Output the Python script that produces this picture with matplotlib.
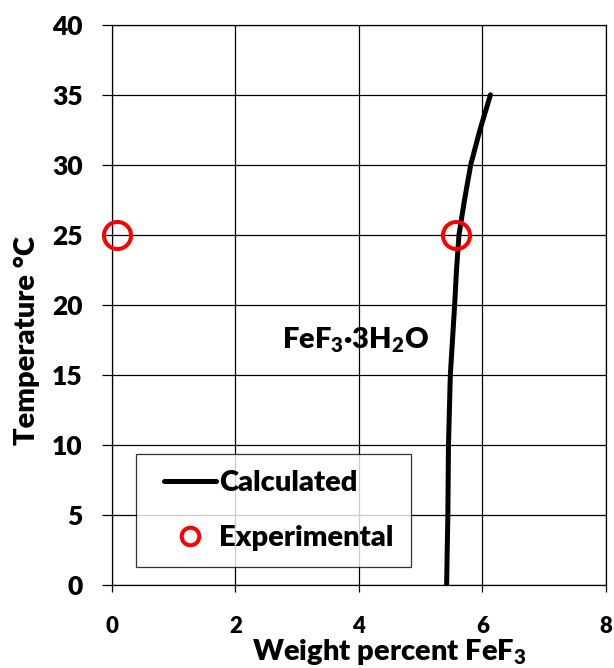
import numpy as np
import matplotlib.pyplot as plt
from matplotlib.lines import Line2D
from matplotlib.legend_handler import HandlerLine2D

W = 'heavy'
plt.rcParams['font.family'] = ['Lato', 'DejaVu Sans']
plt.rcParams['font.weight'] = W
plt.rcParams['axes.labelweight'] = W
plt.rcParams['mathtext.fontset'] = 'custom'
plt.rcParams['mathtext.rm'] = 'Lato:' + W
plt.rcParams['mathtext.it'] = 'Lato:' + W
plt.rcParams['mathtext.bf'] = 'Lato:' + W

# calculated solubility curve (wt% FeF3 vs temperature)
calc_temp = [0, 5, 10, 15, 20, 22.5, 25, 27.5, 30, 32.5, 35]
calc_wt = [5.42, 5.44, 5.45, 5.48, 5.55, 5.58, 5.62, 5.71, 5.81, 5.96, 6.13]

# measured points
exp_temp = [25, 25]
exp_wt = [0.08, 5.57]

xticks = [0, 2, 4, 6, 8]
yticks = [0, 5, 10, 15, 20, 25, 30, 35, 40]

fig = plt.figure(figsize=(6.14, 6.68), dpi=100)
ax = fig.add_axes([0.182, 0.124, 0.805, 0.839])

ax.plot(calc_wt, calc_temp, color='black', lw=3.6, solid_capstyle='round',
        label='Calculated', zorder=3)
ax.plot(exp_wt, exp_temp, 'o', ms=19.5, mfc='none', mec='#ff0000', mew=2.9,
        label='Experimental', zorder=4, clip_on=False)

ax.set_xlim(0, 8)
ax.set_ylim(0, 40)
ax.set_xticks(xticks)
ax.set_yticks(yticks)
ax.grid(True, color='black', lw=0.9)
ax.set_axisbelow(True)
for s in ax.spines.values():
    s.set_color('black')
    s.set_linewidth(0.9)

ax.tick_params(axis='y', direction='out', length=7, width=0.9, pad=14, labelsize=19)
ax.tick_params(axis='x', direction='out', length=5, width=0.9, pad=17, labelsize=16)
for lab in ax.get_xticklabels() + ax.get_yticklabels():
    lab.set_fontweight(W)

ax.set_xlabel('Weight percent FeF$_3$', fontsize=21)
ax.xaxis.set_label_coords(0.561, -0.092)
ax.set_ylabel('Temperature °C', fontsize=21)
ax.yaxis.set_label_coords(-0.145, 0.436)

ax.text(2.76, 17.5, 'FeF$_3$·3H$_2$O', fontsize=21, va='center', ha='left')

leg = ax.legend(loc='lower left', bbox_to_anchor=(0.049, 0.032, 0.557, 0.2),
                mode='expand', fontsize=21, frameon=True, fancybox=False,
                handlelength=2.2, handletextpad=0.1, labelspacing=1.0,
                borderpad=0.55, borderaxespad=0, markerscale=0.65,
                handler_map={Line2D: HandlerLine2D(xpad=0.4)})
leg.get_frame().set_edgecolor('black')
leg.get_frame().set_linewidth(0.9)

fig.savefig('out.png', dpi=100)
